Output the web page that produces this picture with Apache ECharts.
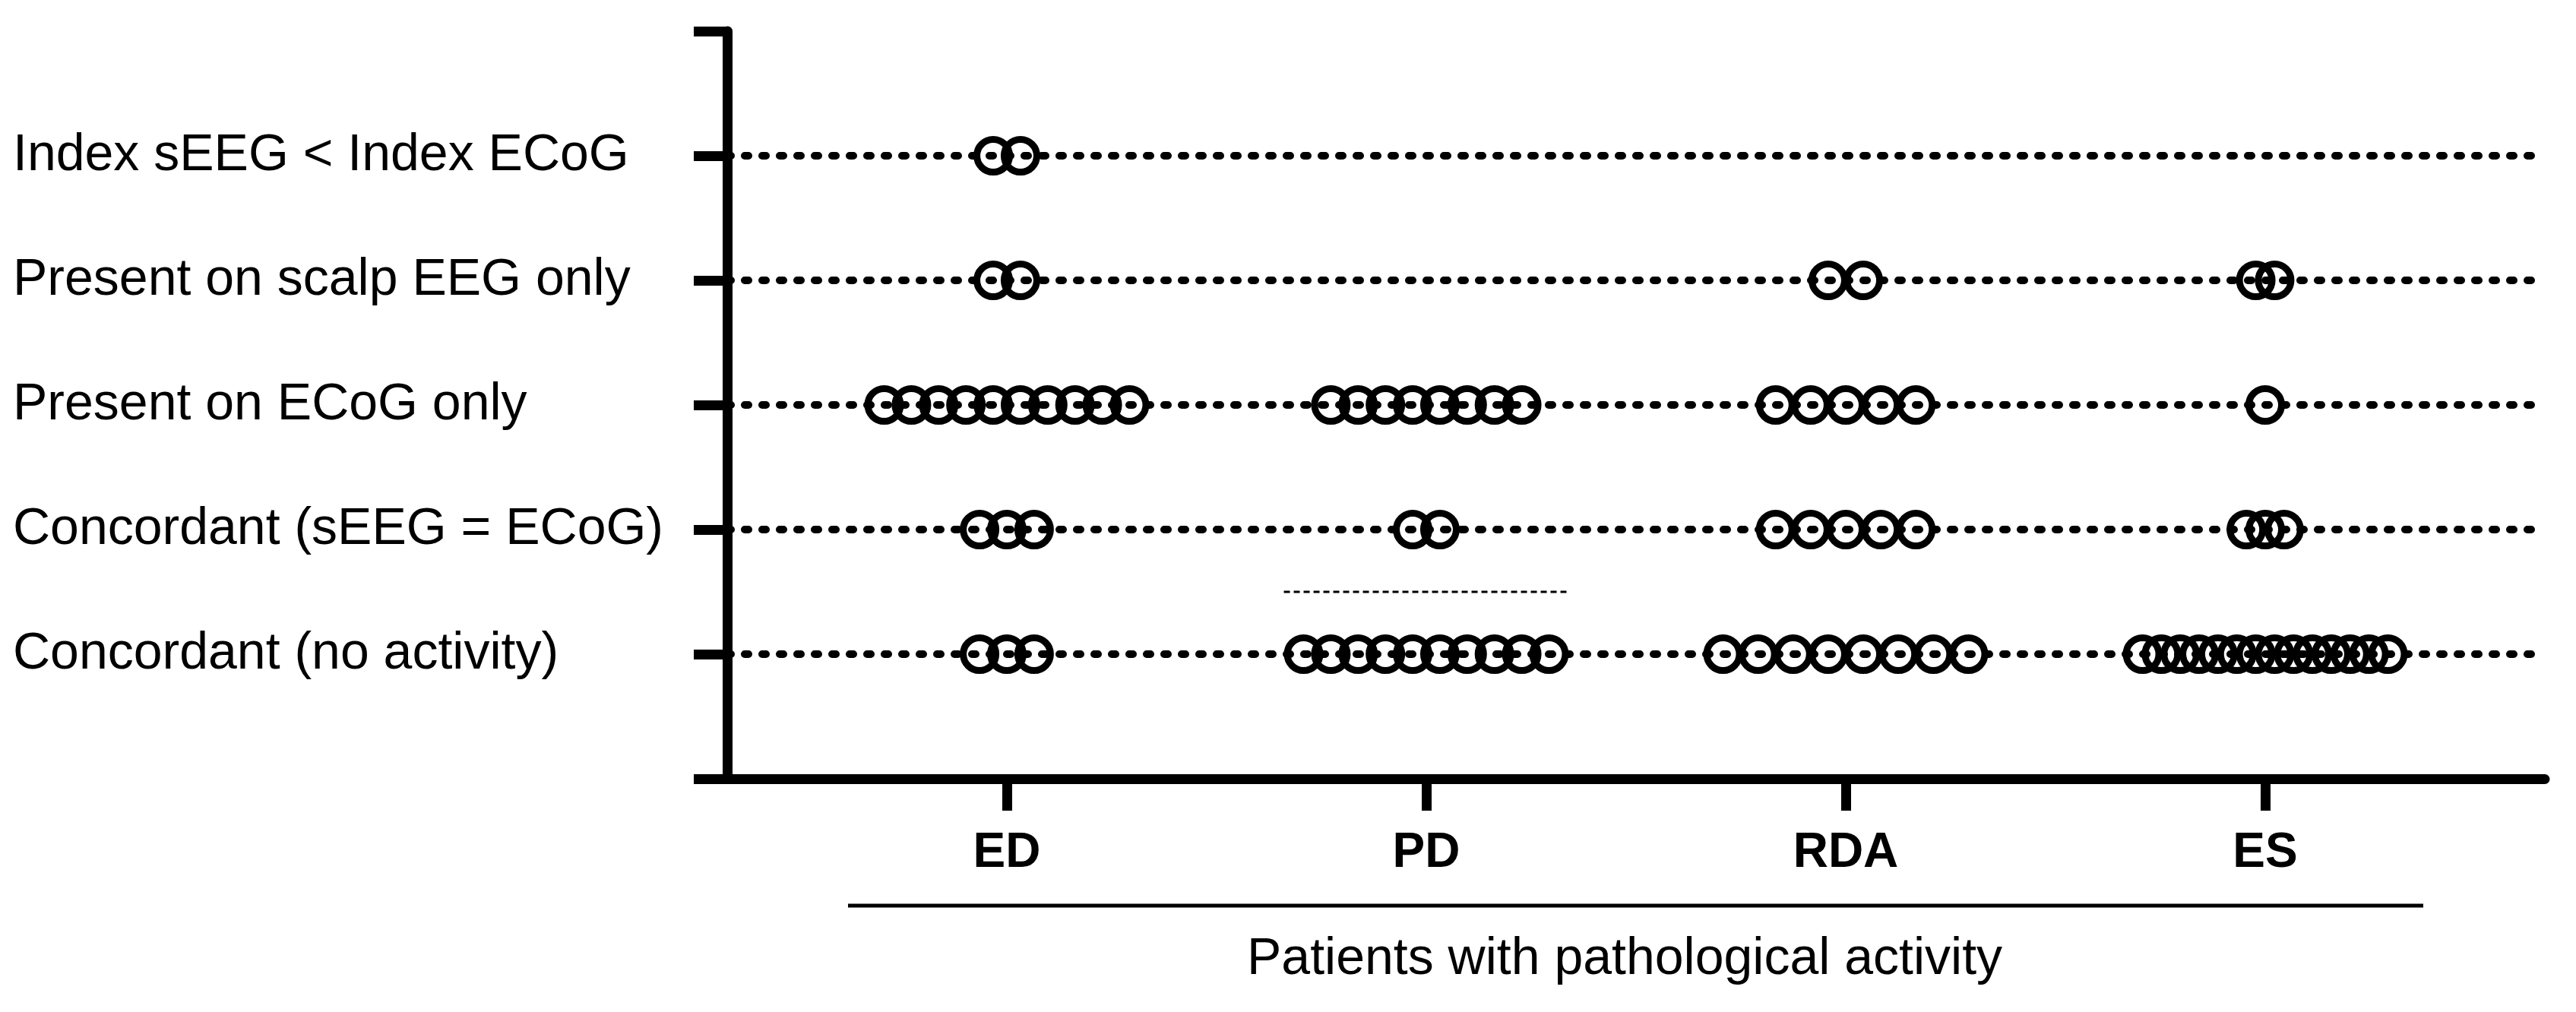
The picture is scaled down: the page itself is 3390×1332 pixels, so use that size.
<!DOCTYPE html>
<html>
<head>
<meta charset="utf-8">
<script src="https://cdn.jsdelivr.net/npm/echarts@6/dist/echarts.min.js"></script>
<style>
html,body{margin:0;padding:0;background:#fff;}
#chart{width:3390px;height:1332px;}
</style>
</head>
<body>
<div id="chart"></div>
<script>
// ---- data ----
const categories = ['ED', 'PD', 'RDA', 'ES'];
const rowLabels = [
  'Index sEEG < Index ECoG',
  'Present on scalp EEG only',
  'Present on ECoG only',
  'Concordant (sEEG = ECoG)',
  'Concordant (no activity)'
];
// number of patients per row (same order as rowLabels), one array per category
const countsED  = [2, 2, 10, 3, 3];
const countsPD  = [0, 0, 8, 2, 10];
const countsRDA = [0, 2, 5, 5, 8];
const countsES  = [0, 2, 1, 3, 14];
const xTickValues = [1, 2, 3, 4];
const xTitle = 'Patients with pathological activity';
// thin dashed line seen under PD "Concordant (sEEG = ECoG)"
const auxLineCategory = 2;
const auxLineY = 1.5;

// ---- layout constants ----
const FONT = 'Liberation Sans, Arial, sans-serif';
const spreadWidth = 0.585;   // horizontal spread (axis units) of the widest row in a column
const symbolSize = 43;
const unitPx = 552;          // px per x unit (for the aux line extent)

const allCounts = [countsED, countsPD, countsRDA, countsES];
const nRows = rowLabels.length;

const points = [];
allCounts.forEach((counts, c) => {
  const maxN = Math.max.apply(null, counts);
  const step = maxN > 1 ? spreadWidth / (maxN - 1) : 0;
  counts.forEach((n, r) => {
    const y = nRows - r;
    for (let i = 0; i < n; i++) {
      points.push([c + 1 + (i - (n - 1) / 2) * step, y]);
    }
  });
});

const auxHalf = spreadWidth / 2 + (symbolSize / 2 + 4.5) / unitPx;

const chart = echarts.init(document.getElementById('chart'), null, {renderer: 'canvas'});
chart.setOption({
  animation: false,
  backgroundColor: '#fff',
  textStyle: {fontFamily: FONT},
  grid: {left: 957, right: 41, top: 41, bottom: 307, containLabel: false},
  xAxis: {
    type: 'value',
    min: 1 / 3,
    max: 14 / 3,
    splitLine: {show: false},
    axisLine: {show: true, onZero: false, lineStyle: {color: '#000', width: 13}},
    axisTick: {show: true, customValues: xTickValues, length: 42, lineStyle: {color: '#000', width: 13}},
    axisLabel: {
      show: true,
      customValues: xTickValues,
      formatter: v => categories[Math.round(v) - 1] || '',
      color: '#000', fontSize: 64, fontWeight: 'bold', fontFamily: FONT, margin: 66
    },
    name: xTitle,
    nameLocation: 'middle',
    nameGap: 204,
    nameTextStyle: {color: '#000', fontSize: 68, fontFamily: FONT, padding: [0, 30, 0, 0]}
  },
  yAxis: {
    type: 'value',
    min: 0,
    max: 6,
    interval: 1,
    axisLine: {show: true, onZero: false, lineStyle: {color: '#000', width: 13}},
    axisTick: {show: true, length: 44, lineStyle: {color: '#000', width: 13}},
    axisLabel: {
      show: true,
      formatter: v => (v >= 1 && v <= nRows) ? rowLabels[nRows - v] : '',
      color: '#000', fontSize: 68, fontFamily: FONT,
      align: 'left', margin: 940
    },
    splitLine: {
      show: true, showMinLine: false, showMaxLine: false,
      lineStyle: {color: '#000', width: 10, type: [5, 18], cap: 'round'}
    }
  },
  graphic: [{
    type: 'line',
    shape: {x1: 1116, y1: 1192, x2: 3189, y2: 1192},
    style: {stroke: '#000', lineWidth: 5},
    silent: true
  }],
  series: [
    {
      type: 'line',
      data: [[auxLineCategory - auxHalf, auxLineY], [auxLineCategory + auxHalf, auxLineY]],
      symbol: 'none',
      lineStyle: {color: '#000', width: 3, type: [8, 5]},
      silent: true,
      z: 1
    },
    {
      type: 'scatter',
      data: points,
      symbol: 'circle',
      symbolSize: symbolSize,
      itemStyle: {color: 'rgba(0,0,0,0)', borderColor: '#000', borderWidth: 9, opacity: 1},
      emphasis: {disabled: true},
      silent: true,
      z: 3
    }
  ]
});
</script>
</body>
</html>
